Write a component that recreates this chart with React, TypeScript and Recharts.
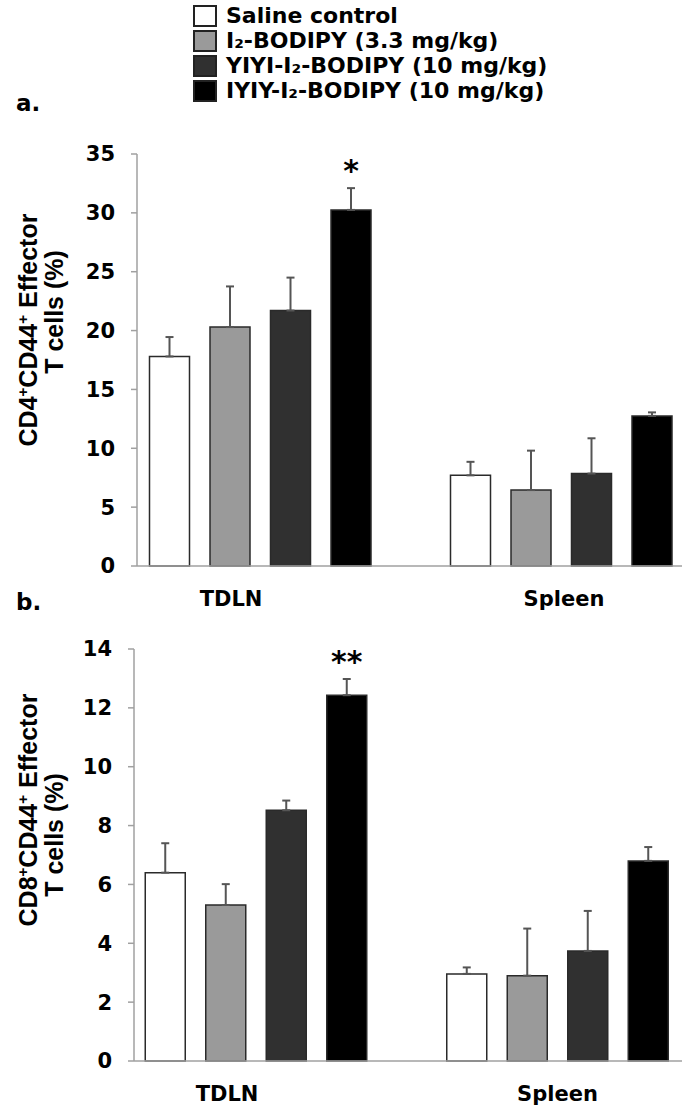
import React from 'react';
import { BarChart, Bar, XAxis, YAxis, ErrorBar, LabelList, Legend } from 'recharts';

const groups = ['TDLN', 'Spleen'];
const seriesNames = [
  'Saline control',
  'I₂-BODIPY (3.3 mg/kg)',
  'YIYI-I₂-BODIPY (10 mg/kg)',
  'IYIY-I₂-BODIPY (10 mg/kg)',
];
const seriesColors = ['#ffffff', '#9a9a9a', '#303030', '#000000'];

// panel a: CD4+CD44+ effector T cells (%)
const cd4Saline = [17.8, 7.7];
const cd4I2 = [20.3, 6.45];
const cd4Yiyi = [21.7, 7.85];
const cd4Iyiy = [30.25, 12.75];
const cd4SalineErr = [1.65, 1.15];
const cd4I2Err = [3.45, 3.35];
const cd4YiyiErr = [2.8, 3.0];
const cd4IyiyErr = [1.85, 0.3];
const cd4Sig = ['*', ''];
const cd4Ticks = [0, 5, 10, 15, 20, 25, 30, 35];

// panel b: CD8+CD44+ effector T cells (%)
const cd8Saline = [6.4, 2.96];
const cd8I2 = [5.3, 2.9];
const cd8Yiyi = [8.52, 3.74];
const cd8Iyiy = [12.43, 6.8];
const cd8SalineErr = [1.0, 0.22];
const cd8I2Err = [0.71, 1.6];
const cd8YiyiErr = [0.33, 1.36];
const cd8IyiyErr = [0.55, 0.47];
const cd8Sig = ['**', ''];
const cd8Ticks = [0, 2, 4, 6, 8, 10, 12, 14];

const boldSans = 'DejaVu Sans, sans-serif';

function buildRows(vals: number[][], errs: number[][], sig: string[]) {
  return groups.map((g, i) => ({
    group: g,
    s0: vals[0][i],
    s1: vals[1][i],
    s2: vals[2][i],
    s3: vals[3][i],
    e0: [0, errs[0][i]],
    e1: [0, errs[1][i]],
    e2: [0, errs[2][i]],
    e3: [0, errs[3][i]],
    sig: sig[i],
  }));
}

const cd4Data = buildRows(
  [cd4Saline, cd4I2, cd4Yiyi, cd4Iyiy],
  [cd4SalineErr, cd4I2Err, cd4YiyiErr, cd4IyiyErr],
  cd4Sig
);
const cd8Data = buildRows(
  [cd8Saline, cd8I2, cd8Yiyi, cd8Iyiy],
  [cd8SalineErr, cd8I2Err, cd8YiyiErr, cd8IyiyErr],
  cd8Sig
);

function LegendBox(props: any) {
  // keep the series order, not the alphabetical one
  const items = [...(props.payload || [])].sort(
    (a: any, b: any) => seriesNames.indexOf(a.value) - seriesNames.indexOf(b.value)
  );
  return (
    <div style={{ position: 'relative', width: 685, height: 110 }}>
      {items.map((entry: any, i: number) => (
        <div
          key={entry.value}
          style={{ position: 'absolute', left: 193, top: 5 + 25 * i, height: 22, display: 'flex', alignItems: 'center' }}
        >
          <span
            style={{
              display: 'inline-block',
              width: 24,
              height: 22,
              boxSizing: 'border-box',
              background: entry.color,
              border: '2px solid #222',
            }}
          />
          <span
            style={{
              marginLeft: 9,
              fontFamily: boldSans,
              fontWeight: 'bold',
              fontSize: 22,
              lineHeight: '22px',
              color: '#000',
              whiteSpace: 'nowrap',
            }}
          >
            {entry.value}
          </span>
        </div>
      ))}
    </div>
  );
}

function GroupTick(props: any) {
  const { x, y, payload, index, shifts } = props;
  return (
    <text
      x={x + shifts[index]}
      y={y + 40}
      textAnchor="middle"
      fontFamily={boldSans}
      fontWeight="bold"
      fontSize={21}
      fill="#000"
    >
      {payload.value}
    </text>
  );
}

function AxisTitle(props: any) {
  const { marker, x1, y1, x2, y2 } = props;
  const style = { fontFamily: 'Liberation Sans, Arial, sans-serif', fontWeight: 'bold' as const, fontSize: 25, fill: '#000' };
  return (
    <g>
      <text x={x1} y={y1} transform={`rotate(-90, ${x1}, ${y1})`} textAnchor="middle" {...style}>
        CD{marker}
        <tspan dy={-9} fontSize={15}>+</tspan>
        <tspan dy={9}>CD44</tspan>
        <tspan dy={-9} fontSize={15}>+</tspan>
        <tspan dy={9}> Effector</tspan>
      </text>
      <text x={x2} y={y2} transform={`rotate(-90, ${x2}, ${y2})`} textAnchor="middle" {...style}>
        T cells (%)
      </text>
    </g>
  );
}

function SigLabel(props: any) {
  const { x, y, width, value, lift } = props;
  if (!value) return null;
  return (
    <text
      x={x + width / 2}
      y={y - lift}
      textAnchor="middle"
      fontFamily={boldSans}
      fontWeight="bold"
      fontSize={30}
      fill="#000"
    >
      {value}
    </text>
  );
}

type PanelProps = {
  data: any[];
  ticks: number[];
  height: number;
  marginTop: number;
  axisWidth: number;
  xAxisHeight: number;
  padLeft: number;
  padRight: number;
  tickShifts: number[];
  sigLift: number;
  marker: string;
  title: { x1: number; y1: number; x2: number; y2: number };
  showLegend?: boolean;
};

function Panel(p: PanelProps) {
  return (
    <BarChart
      width={685}
      height={p.height}
      data={p.data}
      margin={{ top: p.marginTop, right: 3, left: 0, bottom: 0 }}
      barGap={20.5}
    >
      <XAxis
        dataKey="group"
        height={p.xAxisHeight}
        padding={{ left: p.padLeft, right: p.padRight }}
        axisLine={{ stroke: '#a0a0a0', strokeWidth: 1.5 }}
        tickLine={false}
        tickSize={0}
        tickMargin={0}
        interval={0}
        tick={<GroupTick shifts={p.tickShifts} />}
      />
      <YAxis
        width={p.axisWidth}
        domain={[p.ticks[0], p.ticks[p.ticks.length - 1]]}
        ticks={p.ticks}
        interval={0}
        axisLine={{ stroke: '#a0a0a0', strokeWidth: 1.5 }}
        tickLine={{ stroke: '#a0a0a0', strokeWidth: 1.5 }}
        tickSize={6}
        tickMargin={16}
        tick={{ fontFamily: boldSans, fontWeight: 'bold', fontSize: 21, fill: '#000' }}
        label={<AxisTitle marker={p.marker} {...p.title} />}
      />
      {p.showLegend && (
        <Legend
          layout="vertical"
          align="center"
          verticalAlign="middle"
          wrapperStyle={{ top: 0, left: 0, width: 685 }}
          content={<LegendBox />}
        />
      )}
      {seriesNames.map((name, i) => (
        <Bar
          key={name}
          dataKey={`s${i}`}
          name={name}
          fill={seriesColors[i]}
          stroke="#2a2a2a"
          strokeWidth={1.5}
          barSize={40}
          isAnimationActive={false}
        >
          <ErrorBar dataKey={`e${i}`} direction="y" width={4} stroke="#555" strokeWidth={2} />
          {i === seriesNames.length - 1 && (
            <LabelList dataKey="sig" content={<SigLabel lift={p.sigLift} />} />
          )}
        </Bar>
      ))}
    </BarChart>
  );
}

export default function App() {
  return (
    <div style={{ position: 'absolute', left: 0, top: 0, width: 685, height: 1112, background: '#fff' }}>
      <div style={{ position: 'absolute', left: 0, top: 0 }}>
        <Panel
          data={cd4Data}
          ticks={cd4Ticks}
          height={640}
          marginTop={154}
          axisWidth={137}
          xAxisHeight={74}
          padLeft={-27.5}
          padRight={-29.5}
          tickShifts={[-29, 3]}
          sigLift={29}
          marker="4"
          title={{ x1: 37, y1: 330, x2: 63, y2: 312 }}
          showLegend
        />
      </div>
      <div style={{ position: 'absolute', left: 0, top: 590 }}>
        <Panel
          data={cd8Data}
          ticks={cd8Ticks}
          height={522}
          marginTop={59}
          axisWidth={134}
          xAxisHeight={51}
          padLeft={-28.75}
          padRight={-26.25}
          tickShifts={[-29, 0]}
          sigLift={23}
          marker="8"
          title={{ x1: 37, y1: 220, x2: 63, y2: 245 }}
        />
      </div>
      <div style={{ position: 'absolute', left: 16, top: 90, fontFamily: boldSans, fontWeight: 'bold', fontSize: 23 }}>a.</div>
      <div style={{ position: 'absolute', left: 16, top: 589, fontFamily: boldSans, fontWeight: 'bold', fontSize: 23 }}>b.</div>
    </div>
  );
}
